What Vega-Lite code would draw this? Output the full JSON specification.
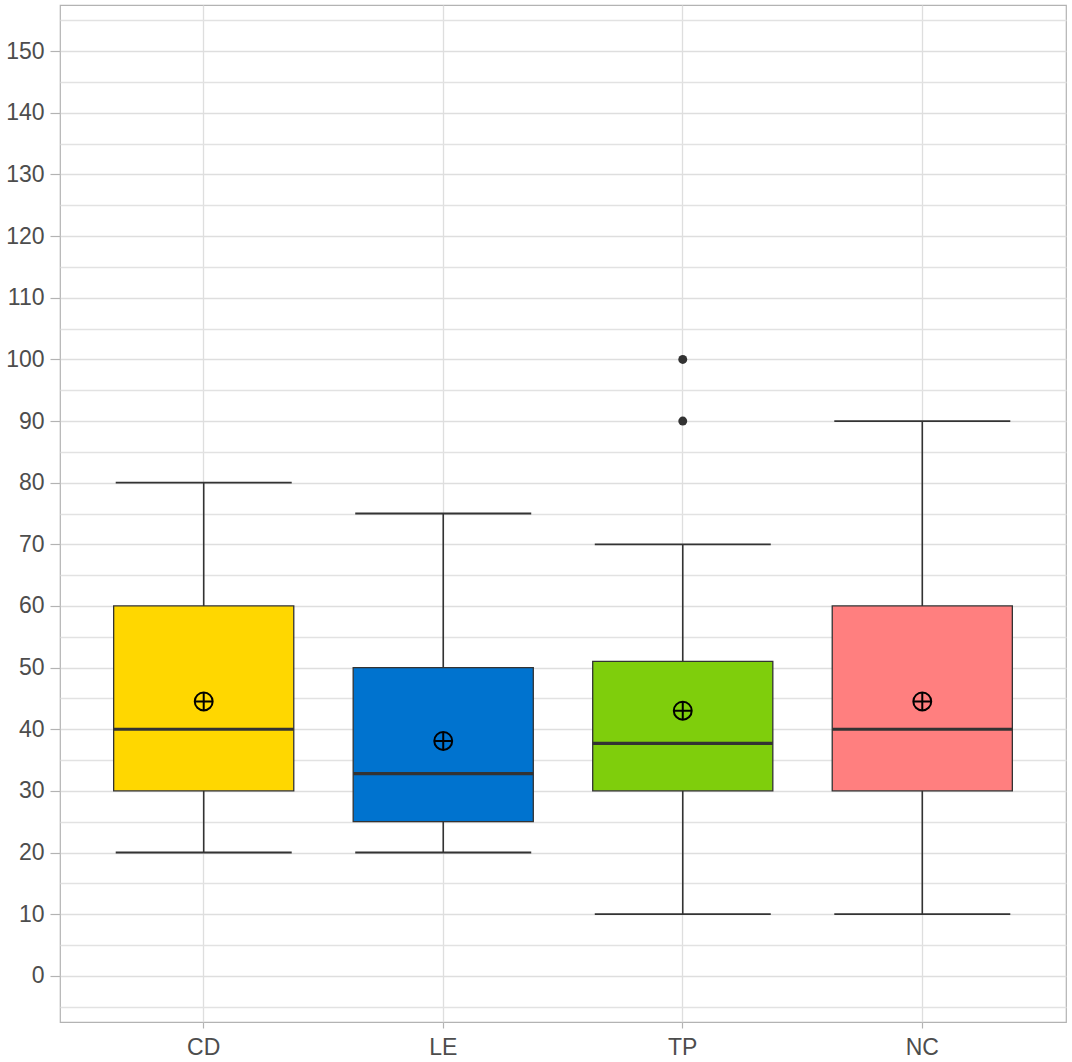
{
  "$schema": "https://vega.github.io/schema/vega-lite/v6.json",
  "width": 1006,
  "height": 1017,
  "autosize": {"type": "none"},
  "padding": {"left": 60, "top": 5, "right": 6, "bottom": 40},
  "background": "white",
  "config": {
    "view": {"stroke": "#B3B3B3", "strokeWidth": 1.2},
    "axis": {
      "domain": false,
      "grid": true,
      "gridColor": "#DEDEDE",
      "gridWidth": 1.3,
      "tickColor": "#B3B3B3",
      "tickWidth": 1.2,
      "labelFont": "Liberation Sans",
      "labelFontSize": 23,
      "labelColor": "#4D4D4D",
      "title": null
    }
  },
  "datasets": {
    "stats": [
      {"group": "CD", "lo": 20, "q1": 30, "med": 40, "q3": 60, "hi": 80, "mean": 44.5},
      {"group": "LE", "lo": 20, "q1": 25, "med": 32.8, "q3": 50, "hi": 75, "mean": 38.1},
      {"group": "TP", "lo": 10, "q1": 30, "med": 37.7, "q3": 51, "hi": 70, "mean": 43.0},
      {"group": "NC", "lo": 10, "q1": 30, "med": 40, "q3": 60, "hi": 90, "mean": 44.5}
    ],
    "outliers": [
      {"group": "TP", "value": 90},
      {"group": "TP", "value": 100}
    ]
  },
  "data": {"name": "stats"},
  "encoding": {
    "x": {
      "field": "group",
      "type": "nominal",
      "sort": ["CD", "LE", "TP", "NC"],
      "scale": {"paddingInner": 0.248, "paddingOuter": 0.224},
      "axis": {"labelAngle": 0, "bandPosition": 0.5, "tickSize": 6, "labelPadding": 8, "title": null}
    }
  },
  "resolve": {"axis": {"y": "independent"}},
  "layer": [
    {
      "mark": {"type": "rule", "color": "#333333", "strokeWidth": 1.6},
      "encoding": {
        "y": {
          "field": "lo",
          "type": "quantitative",
          "scale": {"domain": [-7.5, 157.5], "nice": false, "zero": false},
          "axis": {
            "orient": "left",
            "values": [0, 10, 20, 30, 40, 50, 60, 70, 80, 90, 100, 110, 120, 130, 140, 150],
            "tickSize": 10,
            "labelPadding": 6,
            "grid": true,
            "title": null
          }
        },
        "y2": {"field": "q1"}
      }
    },
    {
      "mark": {"type": "rule", "color": "#333333", "strokeWidth": 1.6},
      "encoding": {
        "y": {
          "field": "q3",
          "type": "quantitative",
          "axis": {
            "orient": "left",
            "values": [-5, 5, 15, 25, 35, 45, 55, 65, 75, 85, 95, 105, 115, 125, 135, 145, 155],
            "labels": false,
            "ticks": false,
            "grid": true,
            "gridColor": "#E2E2E2",
            "title": null
          }
        },
        "y2": {"field": "hi"}
      }
    },
    {
      "mark": {"type": "tick", "color": "#333333", "opacity": 1, "thickness": 1.8, "size": 176},
      "encoding": {
        "y": {"field": "lo", "type": "quantitative", "axis": null}
      }
    },
    {
      "mark": {"type": "tick", "color": "#333333", "opacity": 1, "thickness": 1.8, "size": 176},
      "encoding": {
        "y": {"field": "hi", "type": "quantitative", "axis": null}
      }
    },
    {
      "mark": {"type": "bar", "stroke": "#333333", "strokeWidth": 1.3, "opacity": 1},
      "encoding": {
        "y": {"field": "q1", "type": "quantitative", "axis": null},
        "y2": {"field": "q3"},
        "fill": {
          "field": "group",
          "type": "nominal",
          "scale": {"domain": ["CD", "LE", "TP", "NC"], "range": ["#FFD700", "#0073CF", "#7FCE0C", "#FF7F7F"]},
          "legend": null
        }
      }
    },
    {
      "mark": {"type": "tick", "color": "#333333", "opacity": 1, "thickness": 3.2, "size": 180},
      "encoding": {
        "y": {"field": "med", "type": "quantitative", "axis": null}
      }
    },
    {
      "mark": {"type": "point", "shape": "circle", "filled": false, "stroke": "black", "opacity": 1, "strokeWidth": 2, "size": 320},
      "encoding": {
        "y": {"field": "mean", "type": "quantitative", "axis": null}
      }
    },
    {
      "mark": {"type": "point", "shape": "M-1,0L1,0M0,-1L0,1", "filled": false, "stroke": "black", "opacity": 1, "strokeWidth": 2, "size": 320},
      "encoding": {
        "y": {"field": "mean", "type": "quantitative", "axis": null}
      }
    },
    {
      "data": {"name": "outliers"},
      "mark": {"type": "point", "shape": "circle", "filled": true, "color": "#333333", "opacity": 1, "size": 80},
      "encoding": {
        "y": {"field": "value", "type": "quantitative", "axis": null}
      }
    }
  ]
}
